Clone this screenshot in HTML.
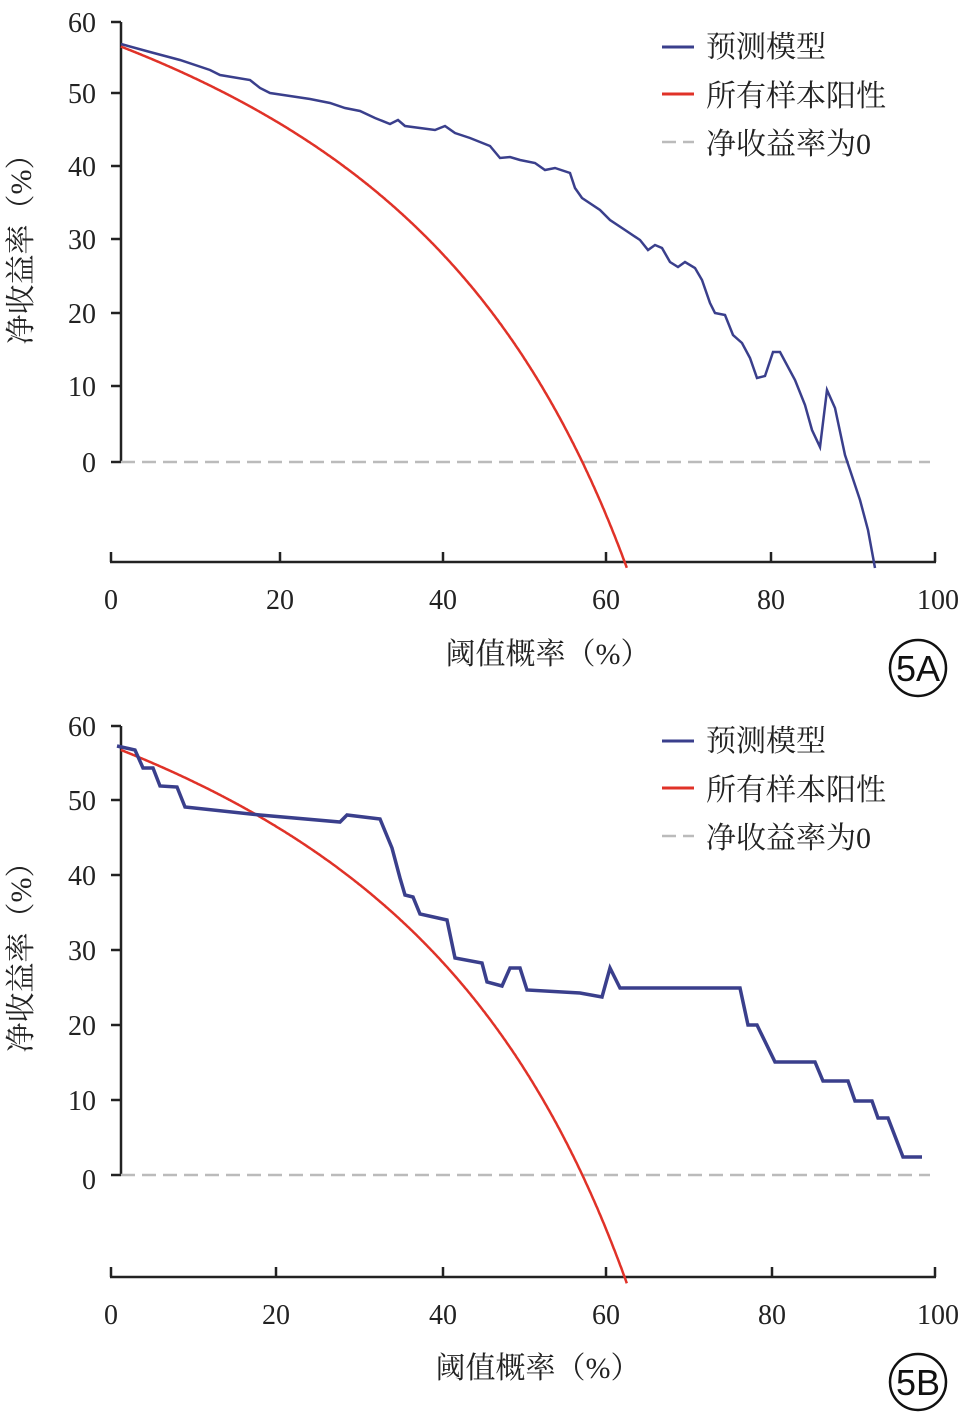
<!DOCTYPE html>
<html><head><meta charset="utf-8"><style>
html,body{margin:0;padding:0;background:#fff}
svg{display:block}
.t{font-family:"Liberation Serif","Noto Serif CJK SC",serif;font-size:28px;fill:#222}
.c{font-family:"Liberation Serif","Noto Serif CJK SC",serif;font-size:30px;fill:#222}
</style></head><body>
<svg id="s" width="964" height="1419" viewBox="0 0 964 1419" xmlns="http://www.w3.org/2000/svg">
<g stroke="#222" stroke-width="2.5" fill="none">
<line x1="121" y1="22" x2="121" y2="462"/>
<line x1="111" y1="22" x2="121" y2="22"/><line x1="111" y1="93" x2="121" y2="93"/><line x1="111" y1="166" x2="121" y2="166"/><line x1="111" y1="239" x2="121" y2="239"/><line x1="111" y1="313" x2="121" y2="313"/><line x1="111" y1="386" x2="121" y2="386"/><line x1="111" y1="462" x2="121" y2="462"/>
<line x1="110" y1="562" x2="936" y2="562"/>
<line x1="111" y1="552" x2="111" y2="562"/><line x1="280" y1="552" x2="280" y2="562"/><line x1="443" y1="552" x2="443" y2="562"/><line x1="606" y1="552" x2="606" y2="562"/><line x1="771" y1="552" x2="771" y2="562"/><line x1="935" y1="552" x2="935" y2="562"/>
<line x1="121" y1="726" x2="121" y2="1175"/>
<line x1="111" y1="726" x2="121" y2="726"/><line x1="111" y1="800" x2="121" y2="800"/><line x1="111" y1="875" x2="121" y2="875"/><line x1="111" y1="950" x2="121" y2="950"/><line x1="111" y1="1025" x2="121" y2="1025"/><line x1="111" y1="1100" x2="121" y2="1100"/><line x1="111" y1="1175" x2="121" y2="1175"/>
<line x1="110" y1="1277" x2="936" y2="1277"/>
<line x1="111" y1="1267" x2="111" y2="1277"/><line x1="276" y1="1267" x2="276" y2="1277"/><line x1="443" y1="1267" x2="443" y2="1277"/><line x1="606" y1="1267" x2="606" y2="1277"/><line x1="772" y1="1267" x2="772" y2="1277"/><line x1="935" y1="1267" x2="935" y2="1277"/>
</g>
<g stroke="#bbb" stroke-width="2.5" stroke-dasharray="14,7">
<line x1="121" y1="462" x2="930" y2="462"/>
<line x1="121" y1="1175" x2="930" y2="1175"/>
<line x1="662" y1="142" x2="694" y2="142"/>
<line x1="662" y1="836" x2="694" y2="836"/>
</g>
<path id="ra" stroke="#e03228" stroke-width="2.5" fill="none"/>
<path id="rb" stroke="#e03228" stroke-width="2.5" fill="none"/>
<polyline fill="none" stroke="#3a3f8c" stroke-width="2.5" points="121,44 150,52 180,60 210,70 220,75 250,80 260,88 270,93 290,96 310,99 330,103 345,108 360,111 375,118 390,124 398,120 405,126 420,128 435,130 445,126 455,133 470,138 490,146 500,158 510,157 520,160 535,163 545,170 555,168 570,173 575,188 582,198 600,210 610,220 625,230 640,240 648,250 655,245 662,248 670,262 678,267 685,262 695,268 702,280 710,303 715,313 725,315 733,335 742,343 750,358 757,378 765,376 773,352 780,352 795,380 805,405 812,430 820,447 827,390 835,408 845,455 850,470 860,500 868,530 875,568"/>
<polyline fill="none" stroke="#3a3f8c" stroke-width="3.5" points="117,746 135,750 143,768 153,768 160,786 177,787 185,807 260,815 340,822 347,815 380,819 392,848 400,878 405,895 413,897 420,914 447,920 455,958 482,963 487,982 502,986 510,968 520,968 527,990 580,993 602,997 610,968 620,988 740,988 748,1025 757,1025 775,1062 815,1062 823,1081 848,1081 855,1101 872,1101 878,1118 888,1118 903,1157 922,1157"/>
<line x1="662" y1="47" x2="694" y2="47" stroke="#3a3f8c" stroke-width="3"/>
<line x1="662" y1="94" x2="694" y2="94" stroke="#e03228" stroke-width="3"/>
<line x1="662" y1="741" x2="694" y2="741" stroke="#3a3f8c" stroke-width="3"/>
<line x1="662" y1="788" x2="694" y2="788" stroke="#e03228" stroke-width="3"/>
<g class="t" text-anchor="end">
<text x="96" y="32">60</text><text x="96" y="103">50</text><text x="96" y="176">40</text><text x="96" y="249">30</text><text x="96" y="323">20</text><text x="96" y="396">10</text><text x="96" y="472">0</text>
<text x="96" y="736">60</text><text x="96" y="810">50</text><text x="96" y="885">40</text><text x="96" y="960">30</text><text x="96" y="1035">20</text><text x="96" y="1110">10</text><text x="96" y="1189">0</text>
</g>
<g class="t" text-anchor="middle">
<text x="111" y="609">0</text><text x="280" y="609">20</text><text x="443" y="609">40</text><text x="606" y="609">60</text><text x="771" y="609">80</text><text x="938" y="609">100</text>
<text x="111" y="1324">0</text><text x="276" y="1324">20</text><text x="443" y="1324">40</text><text x="606" y="1324">60</text><text x="772" y="1324">80</text><text x="938" y="1324">100</text>
</g>
<g class="c">
<text x="706" y="57">预测模型</text><text x="706" y="106">所有样本阳性</text><text x="706" y="154">净收益率为0</text>
<text x="706" y="751">预测模型</text><text x="706" y="800">所有样本阳性</text><text x="706" y="848">净收益率为0</text>
<text x="548" y="664" text-anchor="middle">阈值概率（%）</text>
<text x="538" y="1378" text-anchor="middle">阈值概率（%）</text>
<text transform="translate(31,242) rotate(-90)" text-anchor="middle">净收益率（%）</text>
<text transform="translate(31,950) rotate(-90)" text-anchor="middle">净收益率（%）</text>
</g>
<g fill="none" stroke="#111" stroke-width="2.5">
<circle cx="918" cy="668" r="28"/><circle cx="918" cy="1382" r="28"/>
</g>
<g font-family="Liberation Sans,sans-serif" font-size="36" fill="#111" text-anchor="middle">
<text x="918" y="681">5A</text><text x="918" y="1395">5B</text>
</g>
</svg>
<script>
function mk(id,y0,sc,ymax){var p=0.572,d="",first=true;for(var i=12;i<=700;i++){var t=i/1000;var nb=p-(1-p)*t/(1-t);var x=111+824*t;var y=y0-nb*100*sc;if(y>ymax)break;d+=(first?"M":"L")+x.toFixed(1)+","+y.toFixed(1);first=false;}document.getElementById(id).setAttribute("d",d);}
mk("ra",462,7.33,570);mk("rb",1175,7.5,1285);
</script>
</body></html>
